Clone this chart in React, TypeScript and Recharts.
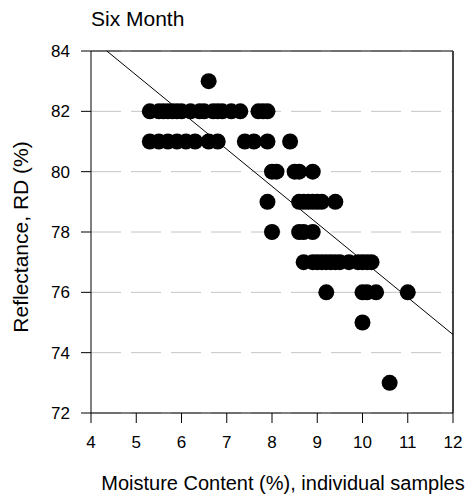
import {
  ScatterChart,
  Scatter,
  XAxis,
  YAxis,
  CartesianGrid,
  ReferenceLine,
} from "recharts";

// moisture content (%) and reflectance RD (%) per sample
const MOISTURE = [
  6.6,
  5.3, 5.5, 5.6, 5.7, 5.8, 5.9, 6.0, 6.2, 6.4, 6.5, 6.7, 6.8, 6.9, 7.1, 7.3, 7.7, 7.8, 7.9,
  5.3, 5.5, 5.7, 5.9, 6.1, 6.3, 6.6, 6.8, 7.4, 7.6, 7.9, 8.4,
  8.0, 8.1, 8.5, 8.6, 8.9,
  7.9, 8.6, 8.7, 8.8, 8.9, 9.0, 9.1, 9.4,
  8.0, 8.6, 8.7, 8.9,
  8.7, 8.9, 9.0, 9.1, 9.2, 9.3, 9.4, 9.5, 9.7, 9.9, 10.0, 10.1, 10.2,
  9.2, 10.0, 10.1, 10.3, 11.0,
  10.0,
  10.6,
];
const REFLECTANCE = [
  83,
  82, 82, 82, 82, 82, 82, 82, 82, 82, 82, 82, 82, 82, 82, 82, 82, 82, 82,
  81, 81, 81, 81, 81, 81, 81, 81, 81, 81, 81, 81,
  80, 80, 80, 80, 80,
  79, 79, 79, 79, 79, 79, 79, 79,
  78, 78, 78, 78,
  77, 77, 77, 77, 77, 77, 77, 77, 77, 77, 77, 77, 77,
  76, 76, 76, 76, 76,
  75,
  73,
];

// regression line end points
const FIT_X = [4.35, 12];
const FIT_Y = [84, 74.6];

const X_TICKS = [4, 5, 6, 7, 8, 9, 10, 11, 12];
const Y_TICKS = [72, 74, 76, 78, 80, 82, 84];

const FONT = '"Liberation Sans", Arial, sans-serif';

const points = MOISTURE.map((x, i) => ({ x, y: REFLECTANCE[i] }));

const Dot = (props: any) => <circle cx={props.cx} cy={props.cy} r={8} fill="#000" />;

export default function App() {
  return (
    <div style={{ position: "absolute", left: 0, top: 0, width: 474, height: 500, background: "#fff", fontFamily: FONT }}>
      <ScatterChart width={474} height={500} margin={{ top: 51, right: 21, left: 0, bottom: 0 }}>
        <CartesianGrid vertical={false} stroke="#c4c4c4" strokeDasharray="30 10" />
        <XAxis
          type="number"
          dataKey="x"
          domain={[4, 12]}
          ticks={X_TICKS}
          height={87}
          stroke="#000"
          tickSize={10}
          tickMargin={13}
          tick={{ fill: "#000", fontSize: 17, fontFamily: FONT }}
        />
        <YAxis
          type="number"
          dataKey="y"
          domain={[72, 84]}
          ticks={Y_TICKS}
          width={91}
          stroke="#000"
          tickSize={10}
          tickMargin={11}
          tick={{ fill: "#000", fontSize: 17, fontFamily: FONT }}
        />
        <ReferenceLine y={84} stroke="#000" strokeWidth={1} />
        <ReferenceLine x={12} stroke="#444" strokeWidth={2} />
        <ReferenceLine
          segment={[
            { x: FIT_X[0], y: FIT_Y[0] },
            { x: FIT_X[1], y: FIT_Y[1] },
          ]}
          stroke="#000"
          strokeWidth={1}
        />
        <Scatter data={points} shape={Dot} isAnimationActive={false} />
      </ScatterChart>
      <svg
        width={474}
        height={500}
        style={{ position: "absolute", left: 0, top: 0, pointerEvents: "none" }}
        fontFamily={FONT}
      >
        <text x={91} y={26} fontSize={21} fill="#000">Six Month</text>
        <text x={283} y={490} fontSize={20} textAnchor="middle" fill="#000">
          Moisture Content (%), individual samples
        </text>
        <text
          x={28}
          y={237}
          fontSize={21}
          textAnchor="middle"
          fill="#000"
          transform="rotate(-90 28 237)"
        >
          Reflectance, RD (%)
        </text>
      </svg>
    </div>
  );
}
